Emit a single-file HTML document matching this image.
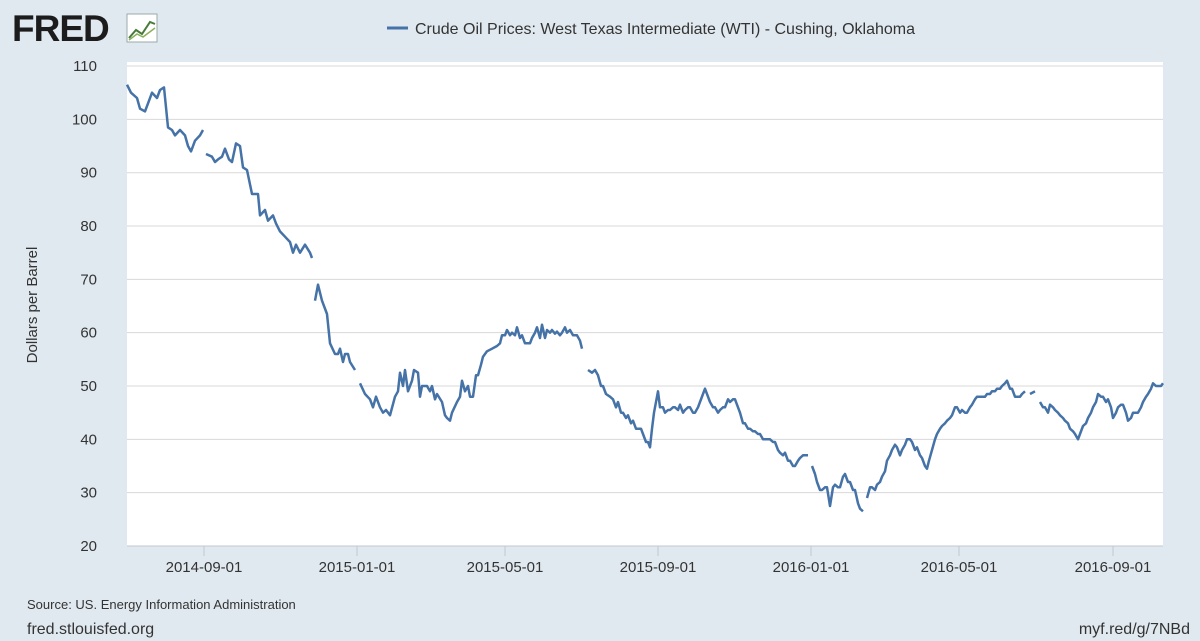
<!DOCTYPE html>
<html><head><meta charset="utf-8"><style>
body{margin:0;background:#e1e9f0;font-family:"Liberation Sans",sans-serif;}
svg{display:block}
</style></head><body>
<svg width="1200" height="641" xmlns="http://www.w3.org/2000/svg" font-family="Liberation Sans, sans-serif">
<rect width="1200" height="641" fill="#e1e9f0"/>
<text x="12" y="41" font-size="37" font-weight="bold" fill="#1c1c1c" letter-spacing="-1">FRED</text>
<rect x="127" y="14" width="30" height="28" fill="#fff" stroke="#9aa" stroke-width="1"/>
<polyline points="129,38 136,30 142,34 150,22 155,24" fill="none" stroke="#4a7a3a" stroke-width="2"/>
<polyline points="129,40 137,34 143,37 155,28" fill="none" stroke="#8ab05a" stroke-width="1.5"/>
<line x1="387" y1="28" x2="408" y2="28" stroke="#4572a7" stroke-width="3"/>
<text x="415" y="34" font-size="16" fill="#333">Crude Oil Prices: West Texas Intermediate (WTI) - Cushing, Oklahoma</text>
<rect x="127" y="62" width="1036" height="484" fill="#fff"/>
<g id="grid" stroke="#d8d8d8" stroke-width="1"></g>
<g id="yl" font-size="15" fill="#333" text-anchor="end"></g>
<text transform="translate(37,305) rotate(-90)" font-size="15" fill="#333" text-anchor="middle">Dollars per Barrel</text>
<line x1="127" y1="546" x2="1163" y2="546" stroke="#c0c8d0"/>
<g id="xl" font-size="15" fill="#333" text-anchor="middle"></g>
<g id="series" fill="none" stroke="#4572a7" stroke-width="2.5" stroke-linejoin="round"></g>
<text x="27" y="609" font-size="13" fill="#333">Source: US. Energy Information Administration</text>
<text x="27" y="634" font-size="16" fill="#333">fred.stlouisfed.org</text>
<text x="1190" y="634" font-size="16" fill="#333" text-anchor="end">myf.red/g/7NBd</text>
</svg>
<script>
var NS="http://www.w3.org/2000/svg";
function el(t,a,p,txt){var e=document.createElementNS(NS,t);for(var k in a)e.setAttribute(k,a[k]);if(txt)e.textContent=txt;document.getElementById(p).appendChild(e);}
function Y(v){return 546-(v-20)*53.33/10;}
for(var v=20;v<=110;v+=10){var y=Y(v);if(v>20)el("line",{x1:127,x2:1163,y1:y,y2:y},"grid");el("text",{x:97,y:y+5},"yl",""+v);}
var xs=[[204,"2014-09-01"],[357,"2015-01-01"],[505,"2015-05-01"],[658,"2015-09-01"],[811,"2016-01-01"],[959,"2016-05-01"],[1113,"2016-09-01"]];
xs.forEach(function(d){el("line",{x1:d[0],x2:d[0],y1:546,y2:556,stroke:"#c0c8d0"},"grid");el("text",{x:d[0],y:572},"xl",d[1]);});
var segs=[
"127:106.5 131:105 137:104 140:102 145:101.5 148:103 152:105 157:104 160:105.5 164:106 168:98.5 172:98 175:97 180:98 185:97 188:95 191:94 195:96 200:97 203:98",
"206:93.5 212:93 215:92 218:92.5 222:93 225:94.5 229:92.5 232:92 236:95.5 240:95 243:91 247:90.5 252:86 258:86 260:82 265:83 268:81 273:82 276:80.5 280:79 285:78 290:77 293:75 296:76.5 300:75 305:76.5 310:75 312:74",
"315:66 318:69 322:66 327:63.5 330:58 335:56 338:56 340:57 343:54.5 345:56 348:56 350:54.5 355:53",
"360:50.5 365:48.5 370:47.5 373:46 376:48 380:46 383:45 386:45.5 390:44.5 395:48 398:49 400:52.5 403:50 405:53 408:49 412:51 414:53 418:52.5 420:48 422:50 427:50 430:49 432:50 435:47.5 437:48.5 442:47 445:44.5 447:44 450:43.5 452:45 457:47 460:48 462:51 465:49 468:50 470:48 473:48 476:52 478:52 481:54 483:55.5 487:56.5 492:57 497:57.5 500:58 502:59.5 505:59.5 507:60.5 510:59.5 512:60 515:59.5 517:61 520:59 522:59.5 525:58 527:58 530:58 532:59 535:60 537:61 540:59 542:61.5 545:59 547:60.5 550:60 552:60.5 555:59.8 557:60.2 560:59.5 562:60 565:61 567:60 570:60.5 573:59.5 577:59.5 580:58.5 582:57",
"588:53 592:52.5 595:53 598:52 601:50 603:50 606:48.5 610:48 613:47.5 616:46 618:47 621:45 623:45 626:44 628:44.5 631:43 633:43.5 636:42 638:42 641:42 643:41 646:39.5 648:39.5 650:38.5 652:42 654:45 657:48 658:49 660:46 663:46 665:45 668:45.5 670:45.5 673:46 675:46 678:45.5 680:46.5 683:45 685:45.5 688:46 690:46 693:45 695:45 698:46 700:47 703:48.5 705:49.5 708:48 710:47 713:46 715:46 718:45 720:45.5 723:46 725:46 728:47.5 730:47 733:47.5 735:47.5 738:46 740:45 743:43 745:43 748:42 750:42 753:41.5 755:41.5 758:41 760:41 763:40 765:40 768:40 770:40 773:39.5 775:39.5 778:38 780:37.5 783:37 785:37.5 788:36 790:36 793:35 795:35 798:36 800:36.5 803:37 805:37 808:37",
"812:35 815:33.5 817:32 820:30.5 822:30.5 825:31 827:31 830:27.5 833:31 835:31.5 838:31 840:31 843:33 845:33.5 848:32 850:32 853:30.5 855:30.5 858:28 860:27 863:26.5",
"867:29 870:31 872:31 875:30.5 877:31.5 880:32 882:33 885:34 887:36 890:37 892:38 895:39 897:38.5 900:37 902:38 905:39 907:40 910:40 912:39.5 915:38 917:38.5 920:37 922:36.5 925:35 927:34.5 929:36 932:38 935:40 937:41 940:42 942:42.5 945:43 947:43.5 950:44 952:44.5 955:46 957:46 960:45 962:45.5 965:45 967:45 970:46 972:46.5 975:47.5 977:48 980:48 982:48 985:48 987:48.5 990:48.5 992:49 995:49 997:49.5 1000:49.5 1002:50 1005:50.5 1007:51 1010:49.5 1012:49.5 1015:48 1017:48 1020:48 1022:48.5 1025:49",
"1030:48.5 1035:49",
"1040:47 1043:46 1045:46 1048:45 1050:46.5 1053:46 1055:45.5 1058:45 1060:44.5 1063:44 1065:43.5 1068:43 1070:42 1073:41.5 1075:41 1078:40 1080:41 1083:42.5 1086:43 1088:44 1091:45 1093:46 1096:47 1098:48.5 1101:48 1103:48 1106:47 1108:47.5 1111:46 1113:44 1116:45 1118:46 1121:46.5 1123:46.5 1126:45 1128:43.5 1131:44 1133:45 1136:45 1138:45 1141:46 1143:47 1146:48 1148:48.5 1151:49.5 1153:50.5 1156:50 1158:50 1161:50 1163:50.5"
];
segs.forEach(function(s){var pts=s.split(" ").map(function(p){var a=p.split(":");return a[0]+","+Y(+a[1]).toFixed(1);}).join(" ");el("polyline",{points:pts},"series");});
</script>
</body></html>
